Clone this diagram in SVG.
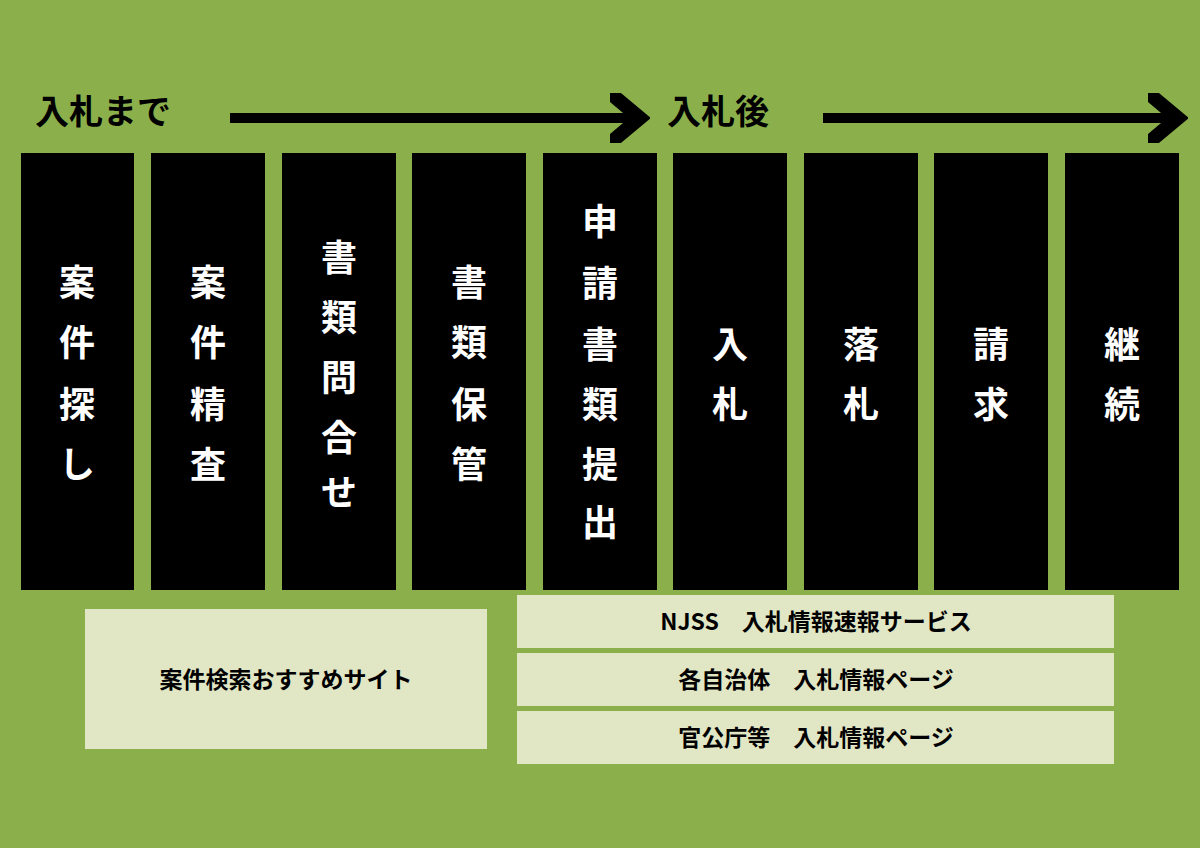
<svg xmlns="http://www.w3.org/2000/svg" width="1200" height="848" viewBox="0 0 1200 848">
<style>
.col{fill:#000}
.v{font-family:"Noto Sans CJK JP",sans-serif;font-weight:bold;font-size:36px;fill:#fff;text-anchor:middle}
.h{font-family:"Noto Sans CJK JP",sans-serif;font-weight:bold;font-size:34px;fill:#000}
.box{fill:#e1e6c4}
.b{font-family:"Noto Sans CJK JP",sans-serif;font-weight:bold;font-size:23px;fill:#000;text-anchor:middle}
</style>
<defs><marker id="ah" markerWidth="4" markerHeight="5" refX="2" refY="2.5" orient="auto"><path d="M0,0 L3,2.5 L0,5" fill="none" stroke="#000" stroke-width="1.4"/></marker></defs>
<rect width="1200" height="848" fill="#8bb04b"/>
<g id="headers">
<text class="h" x="35" y="124">入札まで</text>
<text class="h" x="667" y="124">入札後</text>
</g>
<g id="connectors" stroke="#000" stroke-width="10" fill="none">
<path d="M230,118 H630" marker-end="url(#ah)"/>
<path d="M823,118 H1168" marker-end="url(#ah)"/>
</g>
<g id="c1"><rect class="col" x="21" y="153" width="113" height="437"/><text class="v" x="77"><tspan x="77" y="296">案</tspan><tspan x="77" y="356">件</tspan><tspan x="77" y="418">探</tspan><tspan x="77" y="478">し</tspan></text></g>
<g id="c2"><rect class="col" x="151" y="153" width="114" height="437"/><text class="v"><tspan x="208" y="296">案</tspan><tspan x="208" y="356">件</tspan><tspan x="208" y="418">精</tspan><tspan x="208" y="478">査</tspan></text></g>
<g id="c3"><rect class="col" x="282" y="153" width="114" height="437"/><text class="v"><tspan x="339" y="271">書</tspan><tspan x="339" y="331">類</tspan><tspan x="339" y="391">問</tspan><tspan x="339" y="451">合</tspan><tspan x="339" y="506">せ</tspan></text></g>
<g id="c4"><rect class="col" x="412" y="153" width="114" height="437"/><text class="v"><tspan x="469" y="296">書</tspan><tspan x="469" y="356">類</tspan><tspan x="469" y="418">保</tspan><tspan x="469" y="478">管</tspan></text></g>
<g id="c5"><rect class="col" x="543" y="153" width="114" height="437"/><text class="v"><tspan x="600" y="235">申</tspan><tspan x="600" y="297">請</tspan><tspan x="600" y="358">書</tspan><tspan x="600" y="418">類</tspan><tspan x="600" y="478">提</tspan><tspan x="600" y="536">出</tspan></text></g>
<g id="c6"><rect class="col" x="673" y="153" width="114" height="437"/><text class="v"><tspan x="730" y="358">入</tspan><tspan x="730" y="418">札</tspan></text></g>
<g id="c7"><rect class="col" x="804" y="153" width="114" height="437"/><text class="v"><tspan x="861" y="358">落</tspan><tspan x="861" y="418">札</tspan></text></g>
<g id="c8"><rect class="col" x="934" y="153" width="114" height="437"/><text class="v"><tspan x="991" y="358">請</tspan><tspan x="991" y="418">求</tspan></text></g>
<g id="c9"><rect class="col" x="1065" y="153" width="114" height="437"/><text class="v"><tspan x="1122" y="358">継</tspan><tspan x="1122" y="418">続</tspan></text></g>
<g id="b1"><rect class="box" x="85" y="609" width="402" height="140"/><text class="b" x="286" y="688">案件検索おすすめサイト</text></g>
<g id="b2"><rect class="box" x="517" y="595" width="597" height="53"/><text class="b" x="816" y="630">NJSS　入札情報速報サービス</text></g>
<g id="b3"><rect class="box" x="517" y="653" width="597" height="53"/><text class="b" x="816" y="688">各自治体　入札情報ページ</text></g>
<g id="b4"><rect class="box" x="517" y="711" width="597" height="53"/><text class="b" x="816" y="746">官公庁等　入札情報ページ</text></g>
</svg>
